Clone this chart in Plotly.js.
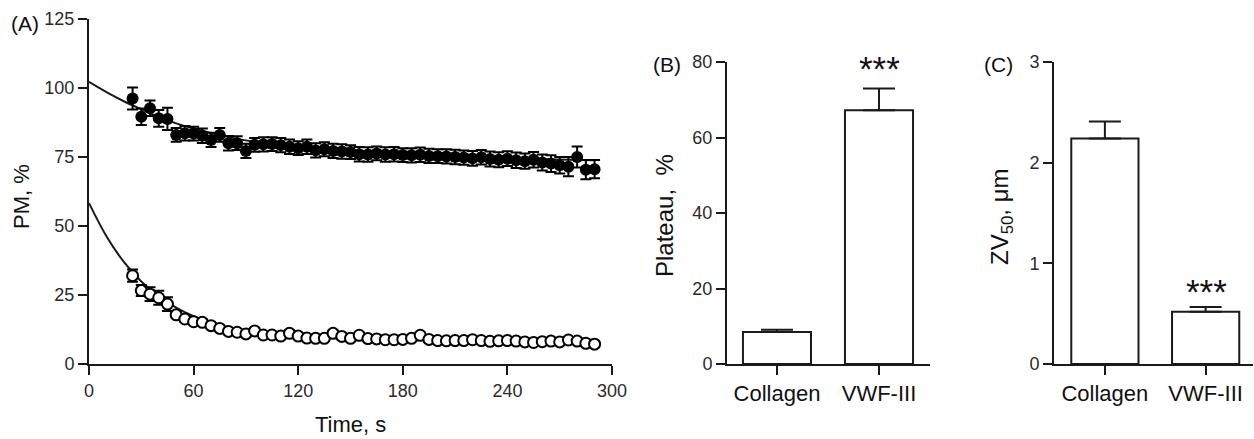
<!DOCTYPE html>
<html>
<head>
<meta charset="utf-8">
<script src="https://cdn.plot.ly/plotly-3.0.1.min.js"></script>
<style>html,body{margin:0;padding:0;background:#fff;}#chart{width:1254px;height:439px;}</style>
</head>
<body>
<div id="chart"></div>
<script>
// ---------- Panel A data ----------
const timeS = [25,30,35,40,45,50,55,60,65,70,75,80,85,90,95,100,105,110,115,120,125,130,135,140,145,150,155,160,165,170,175,180,185,190,195,200,205,210,215,220,225,230,235,240,245,250,255,260,265,270,275,280,285,290];
const vwfMean = [96.2,89.6,92.7,89.0,88.8,83.0,83.6,83.5,82.7,81.2,83.0,80.0,80.0,77.2,79.4,79.6,79.7,79.3,78.7,78.2,78.7,77.4,77.8,77.2,77.0,76.8,76.0,75.9,76.3,75.9,76.0,75.7,75.6,75.8,75.4,75.3,75.2,75.0,74.8,74.5,74.9,74.3,74.0,74.4,73.8,73.5,74.0,73.0,72.6,72.0,71.5,75.0,70.4,70.6];
const vwfErr  = [4.0,3.0,2.8,3.0,4.0,2.5,2.6,2.5,2.6,2.6,2.5,2.6,2.5,2.6,2.5,2.6,2.5,2.6,2.6,2.5,2.6,2.6,2.5,2.6,2.6,2.5,2.6,2.6,2.5,2.6,2.6,2.5,2.6,2.6,2.6,2.5,2.6,2.6,2.6,2.7,2.6,2.7,2.7,2.7,2.8,2.8,2.8,2.9,3.0,3.0,3.5,3.8,3.5,3.3];
const colMean = [32.0,26.6,25.3,24.0,21.7,17.8,16.3,15.3,15.1,13.9,12.9,11.8,11.5,10.9,12.0,10.5,10.5,10.1,11.1,10.1,9.4,9.3,9.3,11.1,10.0,9.3,10.4,9.2,9.1,8.8,8.8,8.9,9.3,10.4,8.9,8.5,8.4,8.5,8.5,8.8,8.5,8.2,8.4,8.5,8.3,8.0,7.8,8.1,8.3,8.0,8.7,8.3,7.5,7.2];
const colErr  = [2.2,2.0,2.5,2.5,2.5,1.0,1.0,1.0,1.0,1.0,1.0,1.0,1.0,1.0,1.0,1.0,1.0,1.0,1.0,1.0,1.0,1.0,1.0,1.0,1.0,1.0,1.0,1.0,1.0,1.0,1.0,1.0,1.0,1.0,1.0,1.0,1.0,1.0,1.0,1.0,1.0,1.0,1.0,1.0,1.0,1.0,1.0,1.0,1.0,1.0,1.0,1.0,1.0,1.0];
// fitted curves
const fitTime = [0,10,20,30,40,50,60,80,100,130,160,200,240,290];
const fitVwf  = [102.2,98.5,95.2,92.3,89.5,87.2,85.3,82.2,80.0,77.9,76.5,75.3,74.5,73.8];
const fitCol  = [58.3,46.3,37.0,29.9,24.6,20.4,17.3,13.2,11.0,9.7,9.2,9.0,8.9,8.8];
const timeTicks = [0,60,120,180,240,300];

// ---------- Panels B and C data ----------
const groups = ['Collagen','VWF-III'];
const plateauMean = [8.5, 67.2];
const plateauErr  = [0.6, 5.8];
const zv50Mean = [2.24, 0.52];
const zv50Err  = [0.17, 0.045];

const W = 1254, H = 439;
const px = x => x / W;
const py = y => 1 - y / H;
const FONT = '"Liberation Sans", Arial, sans-serif';
const INK = '#1a1a1a';

const axisCommon = {
  showline: true, linecolor: INK, linewidth: 2,
  ticks: 'outside', ticklen: 9, tickwidth: 2, tickcolor: INK,
  showgrid: false, zeroline: false, fixedrange: true,
  tickfont: {family: FONT, size: 18, color: '#2a2a2a'}
};

const traces = [
  {x: fitTime, y: fitVwf, type: 'scatter', mode: 'lines', line: {color: INK, width: 2, shape: 'spline'}, xaxis: 'x', yaxis: 'y', hoverinfo: 'skip'},
  {x: fitTime, y: fitCol, type: 'scatter', mode: 'lines', line: {color: INK, width: 2, shape: 'spline'}, xaxis: 'x', yaxis: 'y', hoverinfo: 'skip'},
  {x: timeS, y: vwfMean, type: 'scatter', mode: 'markers', name: 'VWF-III',
   marker: {symbol: 'circle', size: 12, color: '#000'},
   error_y: {type: 'data', array: vwfErr, color: '#000', thickness: 2, width: 5.5},
   xaxis: 'x', yaxis: 'y'},
  {x: timeS, y: colMean, type: 'scatter', mode: 'markers', name: 'Collagen',
   marker: {symbol: 'circle', size: 11, color: '#fff', line: {color: '#000', width: 2}},
   error_y: {type: 'data', array: colErr, color: '#000', thickness: 2, width: 5.5},
   xaxis: 'x', yaxis: 'y'},
  {x: groups, y: plateauMean, type: 'bar', width: 0.667,
   marker: {color: '#fff', line: {color: INK, width: 2}},
   error_y: {type: 'data', symmetric: false, array: plateauErr, arrayminus: [0,0], color: INK, thickness: 2, width: 16},
   xaxis: 'x2', yaxis: 'y2'},
  {x: groups, y: zv50Mean, type: 'bar', width: 0.667,
   marker: {color: '#fff', line: {color: INK, width: 2}},
   error_y: {type: 'data', symmetric: false, array: zv50Err, arrayminus: [0,0], color: INK, thickness: 2, width: 16},
   xaxis: 'x3', yaxis: 'y3'}
];

const catFont = {family: FONT, size: 22, color: '#111'};

const layout = {
  width: W, height: H,
  margin: {l: 0, r: 0, t: 0, b: 0},
  paper_bgcolor: '#fff', plot_bgcolor: 'rgba(0,0,0,0)',
  showlegend: false,
  font: {family: FONT, color: INK},
  xaxis: Object.assign({}, axisCommon, {domain: [px(89), px(612)], range: [0, 300], tickvals: timeTicks, anchor: 'y'}),
  yaxis: Object.assign({}, axisCommon, {domain: [py(364), py(19)], range: [0, 125], dtick: 25, tick0: 0, anchor: 'x'}),
  xaxis2: Object.assign({}, axisCommon, {domain: [px(727), px(930)], type: 'category', range: [-0.49, 1.5], anchor: 'y2', tickfont: catFont}),
  yaxis2: Object.assign({}, axisCommon, {domain: [py(364), py(62)], range: [0, 80], dtick: 20, tick0: 0, anchor: 'x2'}),
  xaxis3: Object.assign({}, axisCommon, {domain: [px(1054), px(1253)], type: 'category', range: [-0.505, 1.47], anchor: 'y3', tickfont: catFont}),
  yaxis3: Object.assign({}, axisCommon, {domain: [py(364), py(62)], range: [0, 3], dtick: 1, tick0: 0, anchor: 'x3'}),
  annotations: [
    {text: '(A)', x: px(25), y: py(23), xref: 'paper', yref: 'paper', showarrow: false, xanchor: 'center', yanchor: 'middle', font: {family: FONT, size: 21, color: '#111'}},
    {text: '(B)', x: px(667), y: py(65), xref: 'paper', yref: 'paper', showarrow: false, xanchor: 'center', yanchor: 'middle', font: {family: FONT, size: 21, color: '#111'}},
    {text: '(C)', x: px(998), y: py(65), xref: 'paper', yref: 'paper', showarrow: false, xanchor: 'center', yanchor: 'middle', font: {family: FONT, size: 21, color: '#111'}},
    {text: 'PM, %', x: px(21), y: py(197), xref: 'paper', yref: 'paper', showarrow: false, textangle: -90, xanchor: 'center', yanchor: 'middle', font: {family: FONT, size: 22, color: '#111'}},
    {text: 'Time, s', x: px(350), y: py(424), xref: 'paper', yref: 'paper', showarrow: false, xanchor: 'center', yanchor: 'middle', font: {family: FONT, size: 22, color: '#111'}},
    {text: 'Plateau,  %', x: px(665), y: py(216), xref: 'paper', yref: 'paper', showarrow: false, textangle: -90, xanchor: 'center', yanchor: 'middle', font: {family: FONT, size: 24, color: '#111'}},
    {text: 'ZV<sub>50</sub>, μm', x: px(1001), y: py(217), xref: 'paper', yref: 'paper', showarrow: false, textangle: -90, xanchor: 'center', yanchor: 'middle', font: {family: FONT, size: 24, color: '#111'}},
    {text: '***', x: px(879), y: py(69), xref: 'paper', yref: 'paper', showarrow: false, xanchor: 'center', yanchor: 'middle', font: {family: FONT, size: 35, color: '#111'}},
    {text: '***', x: px(1206), y: py(291), xref: 'paper', yref: 'paper', showarrow: false, xanchor: 'center', yanchor: 'middle', font: {family: FONT, size: 35, color: '#111'}}
  ]
};

Plotly.newPlot('chart', traces, layout, {displayModeBar: false, staticPlot: true});
</script>
</body>
</html>
